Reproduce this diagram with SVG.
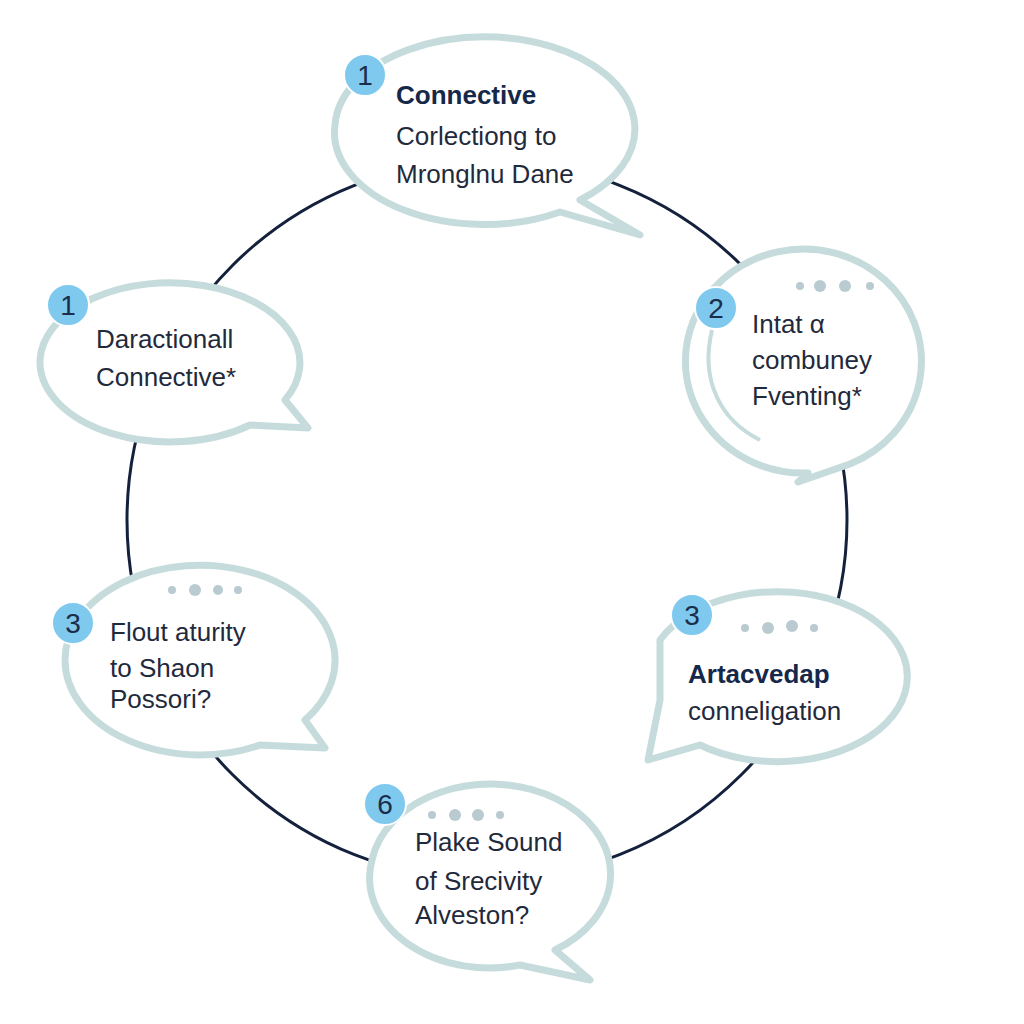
<svg xmlns="http://www.w3.org/2000/svg" width="1024" height="1024" viewBox="0 0 1024 1024">
<defs>
<style>
.b{fill:#fff;stroke:#c6dcdc;stroke-width:7;stroke-linejoin:round}
.badge{fill:#7fc9ee;stroke:#fff;stroke-width:2}
.n{font-family:"Liberation Sans",Arial,sans-serif;font-size:28px;fill:#1b2d4a;text-anchor:middle}
.t{font-family:"Liberation Sans",Arial,sans-serif;font-size:26px;fill:#1f2a3c}
.h{font-weight:bold;fill:#16284a}
.d{fill:#b9cad0}
</style>
</defs>
<rect width="1024" height="1024" fill="#fff"/>
<g id="connectors">
<circle cx="487" cy="520" r="360" fill="none" stroke="#14213d" stroke-width="3"/>
</g>
<g id="n1">
<path class="b" d="M335,125 A150,92 0 1,1 580,200 L640,235 L560,212 A150,92 0 0,1 335,125Z"/>
<circle class="badge" cx="365" cy="75" r="21"/><text class="n" x="365" y="85">1</text>
<text class="t h" x="396" y="104">Connective</text>
<text class="t" x="396" y="145">Corlectiong to</text>
<text class="t" x="396" y="183">Mronglnu Dane</text>
</g>
<g id="n1b">
<path class="b" d="M40,360 A130,80 0 1,1 285,400 L308,428 L250,425 A130,80 0 0,1 40,360Z"/>
<circle class="badge" cx="68" cy="305" r="21"/><text class="n" x="68" y="315">1</text>
<text class="t" x="96" y="348">Daractionall</text>
<text class="t" x="96" y="386">Connective*</text>
</g>
<g id="n2">
<path class="b" d="M850,464 A118,112 0 1,0 808,473 L798,482 Z"/>
<path d="M712,330 C700,380 720,420 760,440" fill="none" stroke="#c6dcdc" stroke-width="4"/>
<circle class="d" cx="820" cy="286" r="6"/><circle class="d" cx="845" cy="286" r="6"/><circle class="d" cx="870" cy="286" r="4"/><circle class="d" cx="800" cy="286" r="4"/>
<circle class="badge" cx="716" cy="308" r="21"/><text class="n" x="716" y="318">2</text>
<text class="t" x="752" y="333">Intat α</text>
<text class="t" x="752" y="369">combuney</text>
<text class="t" x="752" y="405">Fventing*</text>
</g>
<g id="n3">
<path class="b" d="M65,660 A135,95 0 1,1 305,720 L325,748 L260,745 A135,95 0 0,1 65,660Z"/>
<circle class="d" cx="172" cy="590" r="4"/><circle class="d" cx="195" cy="590" r="6"/><circle class="d" cx="218" cy="590" r="5"/><circle class="d" cx="238" cy="590" r="4"/>
<circle class="badge" cx="73" cy="623" r="21"/><text class="n" x="73" y="633">3</text>
<text class="t" x="110" y="641">Flout aturity</text>
<text class="t" x="110" y="677">to Shaon</text>
<text class="t" x="110" y="708">Possori?</text>
</g>
<g id="n3b">
<path class="b" d="M660,640 A130,85 0 1,1 700,745 L648,760 L660,700 Z"/>
<circle class="d" cx="745" cy="628" r="4"/><circle class="d" cx="768" cy="628" r="6"/><circle class="d" cx="792" cy="626" r="6"/><circle class="d" cx="814" cy="628" r="4"/>
<circle class="badge" cx="692" cy="615" r="21"/><text class="n" x="692" y="625">3</text>
<text class="t h" x="688" y="683">Artacvedap</text>
<text class="t" x="688" y="720">conneligation</text>
</g>
<g id="n6">
<path class="b" d="M372,860 A120,90 0 1,1 555,950 L590,980 L520,965 A120,90 0 0,1 372,860Z"/>
<circle class="d" cx="432" cy="815" r="4"/><circle class="d" cx="455" cy="815" r="6"/><circle class="d" cx="478" cy="815" r="6"/><circle class="d" cx="500" cy="815" r="4"/>
<circle class="badge" cx="385" cy="804" r="21"/><text class="n" x="385" y="814">6</text>
<text class="t" x="415" y="851">Plake Sound</text>
<text class="t" x="415" y="890">of Srecivity</text>
<text class="t" x="415" y="924">Alveston?</text>
</g>
</svg>
